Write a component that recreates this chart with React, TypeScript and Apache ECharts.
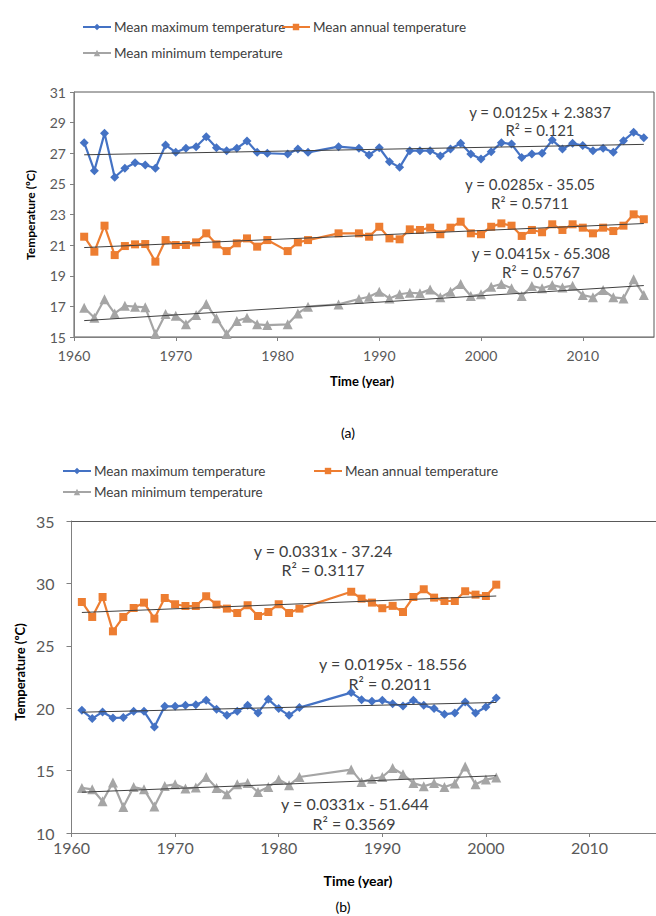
import React, { useEffect, useRef } from 'react';
import * as echarts from 'echarts';

const NAMES = ['Mean maximum temperature', 'Mean annual temperature', 'Mean minimum temperature'];
const COLORS = ['#4472C4', '#ED7D31', '#A5A5A5'];
const SYMBOLS = ['diamond', 'rect', 'triangle'];
const SYMBOL_SIZES = [9, 8, 10];

// Chart (a)
const yearsA = [
  1961, 1962, 1963, 1964, 1965, 1966, 1967, 1968, 1969, 1970, 1971, 1972, 1973, 1974, 1975, 1976, 1977, 1978, 1979,
  1981, 1982, 1983, 1986,
  1988, 1989, 1990, 1991, 1992, 1993, 1994, 1995, 1996, 1997, 1998, 1999, 2000, 2001, 2002, 2003, 2004, 2005, 2006,
  2007, 2008, 2009, 2010, 2011, 2012, 2013, 2014, 2015, 2016,
];
const maxA = [
  27.69, 25.86, 28.3, 25.43, 26.02, 26.38, 26.23, 26.02, 27.54, 27.06, 27.32, 27.43, 28.08, 27.36, 27.17, 27.32, 27.8, 27.06, 27.0,
  26.95, 27.28, 27.06, 27.43,
  27.32, 26.89, 27.36, 26.45, 26.08, 27.17, 27.17, 27.17, 26.82, 27.28, 27.65, 26.95, 26.62, 27.1, 27.69, 27.6, 26.73, 26.95, 27.0,
  27.86, 27.28, 27.65, 27.5, 27.17, 27.32, 27.06, 27.82, 28.37, 28.02,
];
const annualA = [
  21.55, 20.57, 22.27, 20.35, 20.94, 21.05, 21.07, 19.92, 21.33, 21.01, 21.01, 21.18, 21.77, 21.05, 20.61, 21.12, 21.44, 20.9, 21.33,
  20.61, 21.18, 21.33, 21.77,
  21.77, 21.55, 22.2, 21.44, 21.38, 22.03, 21.99, 22.14, 21.71, 22.14, 22.53, 21.77, 21.71, 22.2, 22.42, 22.27, 21.6, 21.99, 21.84,
  22.36, 21.99, 22.36, 22.14, 21.77, 22.14, 21.92, 22.27, 23.01, 22.69,
];
const minA = [
  16.91, 16.26, 17.46, 16.54, 17.04, 16.98, 16.94, 15.19, 16.5, 16.39, 15.83, 16.43, 17.15, 16.22, 15.19, 16.04, 16.26, 15.83, 15.78,
  15.83, 16.54, 16.98, 17.13,
  17.48, 17.63, 17.96, 17.52, 17.79, 17.89, 17.85, 18.11, 17.59, 17.96, 18.46, 17.68, 17.79, 18.28, 18.46, 18.18, 17.68, 18.33, 18.18,
  18.39, 18.24, 18.35, 17.74, 17.59, 18.07, 17.59, 17.52, 18.77, 17.74,
];
const trendYearsA = [1961, 2016];
const trendMaxA = [26.9, 27.58];
const trendAnnualA = [20.84, 22.41];
const trendMinA = [16.07, 18.36];

// Chart (b)
const yearsB = [
  1961, 1962, 1963, 1964, 1965, 1966, 1967, 1968, 1969, 1970, 1971, 1972, 1973, 1974, 1975, 1976, 1977, 1978, 1979, 1980, 1981, 1982,
  1987, 1988, 1989, 1990, 1991, 1992, 1993, 1994, 1995, 1996, 1997, 1998, 1999, 2000, 2001,
];
const maxB = [
  19.83, 19.17, 19.7, 19.22, 19.25, 19.75, 19.75, 18.49, 20.15, 20.15, 20.23, 20.28, 20.63, 19.91, 19.43, 19.75, 20.23, 19.62, 20.71, 19.97, 19.43, 20.05,
  21.25, 20.68, 20.55, 20.63, 20.36, 20.17, 20.63, 20.23, 19.97, 19.51, 19.62, 20.5, 19.62, 20.1, 20.82,
];
const annualB = [
  28.51, 27.31, 28.91, 26.16, 27.31, 28.03, 28.46, 27.18, 28.83, 28.33, 28.19, 28.19, 28.97, 28.3, 27.98, 27.63, 28.25, 27.39, 27.71, 28.33, 27.63, 27.98,
  29.33, 28.78, 28.46, 28.01, 28.2, 27.71, 28.91, 29.53, 28.86, 28.59, 28.59, 29.37, 29.1, 28.99, 29.9,
];
const minB = [
  13.61, 13.5, 12.54, 14.04, 12.08, 13.69, 13.5, 12.13, 13.77, 13.9, 13.56, 13.64, 14.49, 13.61, 13.1, 13.9, 14.0, 13.28, 13.69, 14.28, 13.82, 14.49,
  15.08, 14.08, 14.35, 14.49, 15.21, 14.7, 14.0, 13.74, 14.0, 13.69, 13.96, 15.33, 13.9, 14.28, 14.44,
];
const trendYearsB = [1961, 2001];
const trendMaxB = [19.68, 20.46];
const trendAnnualB = [27.67, 28.99];
const trendMinB = [13.27, 14.59];

const EQ_A = [
  ['y = 0.0125x + 2.3837', 'R² = 0.121'],
  ['y = 0.0285x - 35.05', 'R² = 0.5711'],
  ['y = 0.0415x - 65.308', 'R² = 0.5767'],
];
const EQ_B = [
  ['y = 0.0331x - 37.24', 'R² = 0.3117'],
  ['y = 0.0195x - 18.556', 'R² = 0.2011'],
  ['y = 0.0331x - 51.644', 'R² = 0.3569'],
];

const FONT = 'Lato, "Noto Sans", sans-serif';
const AXIS_COLOR = '#808080';
const TEXT_COLOR = '#595959';

const zip = (xs: number[], ys: number[]) => xs.map((x, i) => [x, ys[i]]);

function dataSeries(idx: number, xs: number[], ys: number[], axis: number) {
  return {
    name: NAMES[idx],
    type: 'line',
    xAxisIndex: axis,
    yAxisIndex: axis,
    data: zip(xs, ys),
    symbol: SYMBOLS[idx],
    symbolSize: SYMBOL_SIZES[idx],
    itemStyle: { color: COLORS[idx] },
    lineStyle: { color: COLORS[idx], width: 2.2 },
    z: 2,
  };
}
function trendSeries(xs: number[], ys: number[], axis: number) {
  return {
    type: 'line',
    xAxisIndex: axis,
    yAxisIndex: axis,
    data: zip(xs, ys),
    symbol: 'none',
    lineStyle: { color: '#404040', width: 1 },
    z: 3,
    silent: true,
  };
}

function legend(idx: number, left: number, top: number, fontSize: number) {
  return {
    data: [NAMES[idx]],
    left,
    top,
    padding: 0,
    itemWidth: 28,
    itemHeight: 8,
    itemGap: 0,
    selectedMode: false,
    textStyle: { fontSize, color: '#404040', fontFamily: FONT, padding: [0, 0, 0, -2] },
  };
}

function txt(text: string, x: number, y: number, fontSize: number, opts: any = {}) {
  return {
    type: 'text',
    x,
    y,
    rotation: opts.rotation || 0,
    silent: true,
    style: {
      text,
      x: 0,
      y: 0,
      align: 'center',
      verticalAlign: 'middle',
      fontSize,
      fontWeight: opts.bold ? 'bold' : 'normal',
      fontFamily: FONT,
      fill: opts.color || '#404040',
    },
  };
}

const yearFmt = (v: number) => String(v);

export default function App() {
  const ref = useRef<HTMLDivElement>(null);
  useEffect(() => {
    if (!ref.current) return;
    const chart = echarts.init(ref.current, undefined, { renderer: 'svg' });
    const graphics: any[] = [
      txt('Temperature (ºC)', 30, 215, 12, { bold: true, rotation: Math.PI / 2, color: '#000' }),
      txt('Time (year)', 362, 381, 13, { bold: true, color: '#000' }),
      txt('(a)', 348, 432, 14, { color: '#000' }),
      txt(EQ_A[0][0], 540, 112, 15),
      txt(EQ_A[0][1], 540, 130, 15),
      txt(EQ_A[1][0], 530, 184, 15),
      txt(EQ_A[1][1], 530, 203, 15),
      txt(EQ_A[2][0], 541, 253, 15),
      txt(EQ_A[2][1], 541, 272, 15),
      txt('Temperature (ºC)', 20, 672, 13, { bold: true, rotation: Math.PI / 2, color: '#000' }),
      txt('Time (year)', 358, 880, 14, { bold: true, color: '#000' }),
      txt('(b)', 343, 906, 14, { color: '#000' }),
      txt(EQ_B[0][0], 323, 550, 16),
      txt(EQ_B[0][1], 323, 569, 16),
      txt(EQ_B[1][0], 393, 663, 16),
      txt(EQ_B[1][1], 390, 683, 16),
      txt(EQ_B[2][0], 355, 803, 16),
      txt(EQ_B[2][1], 354, 823, 16),
    ];
    const axisCommon = {
      axisLine: { show: true, lineStyle: { color: AXIS_COLOR } },
      axisTick: { show: true, length: 4, lineStyle: { color: AXIS_COLOR } },
      splitLine: { show: false },
    };
    chart.setOption({
      animation: false,
      backgroundColor: '#fff',
      textStyle: { fontFamily: FONT },
      grid: [
        { left: 74, top: 92, right: 2, bottom: 579, show: true, borderColor: '#595959', borderWidth: 1 },
        { left: 71.5, top: 521, right: 0, bottom: 83, show: false },
      ],
      xAxis: [
        {
          type: 'value', gridIndex: 0, min: 1960, max: 2017, interval: 10, ...axisCommon,
          axisLabel: { fontSize: 14, color: TEXT_COLOR, margin: 11, showMaxLabel: false, fontFamily: FONT, formatter: yearFmt },
        },
        {
          type: 'value', gridIndex: 1, min: 1960, max: 2016.42, interval: 10, ...axisCommon,
          axisTick: { show: true, length: 4, lineStyle: { color: AXIS_COLOR } },
          axisLabel: { fontSize: 16, color: TEXT_COLOR, margin: 6, showMaxLabel: false, fontFamily: FONT, formatter: yearFmt },
        },
        {
          type: 'value', gridIndex: 1, position: 'top', min: 1960, max: 2016.42, interval: 10,
          axisLine: { show: true, lineStyle: { color: '#595959' } },
          axisTick: { show: false },
          axisLabel: { show: false },
          splitLine: { show: false },
        },
      ],
      yAxis: [
        {
          type: 'value', gridIndex: 0, min: 15, max: 31, interval: 2, ...axisCommon,
          axisLabel: { fontSize: 14, color: TEXT_COLOR, margin: 8, fontFamily: FONT },
        },
        {
          type: 'value', gridIndex: 1, min: 10, max: 35, interval: 5, ...axisCommon,
          axisTick: { show: true, length: 5, lineStyle: { color: AXIS_COLOR } },
          axisLabel: { fontSize: 16, color: TEXT_COLOR, margin: 17, fontFamily: FONT },
        },
      ],
      legend: [
        legend(0, 82, 20, 13.5),
        legend(1, 281, 20, 13.5),
        legend(2, 82, 46, 13.5),
        legend(0, 62, 464, 13.5),
        legend(1, 313, 464, 13.5),
        legend(2, 62, 485, 13.5),
      ],
      series: [
        dataSeries(0, yearsA, maxA, 0),
        dataSeries(1, yearsA, annualA, 0),
        dataSeries(2, yearsA, minA, 0),
        trendSeries(trendYearsA, trendMaxA, 0),
        trendSeries(trendYearsA, trendAnnualA, 0),
        trendSeries(trendYearsA, trendMinA, 0),
        dataSeries(0, yearsB, maxB, 1),
        dataSeries(1, yearsB, annualB, 1),
        dataSeries(2, yearsB, minB, 1),
        trendSeries(trendYearsB, trendMaxB, 1),
        trendSeries(trendYearsB, trendAnnualB, 1),
        trendSeries(trendYearsB, trendMinB, 1),
      ],
      graphic: graphics,
    });
    return () => chart.dispose();
  }, []);
  return <div ref={ref} style={{ position: 'absolute', left: 0, top: 0, width: 656, height: 916 }} />;
}
